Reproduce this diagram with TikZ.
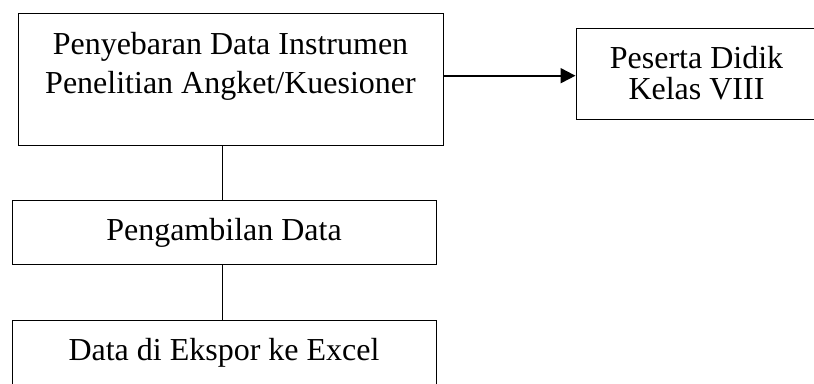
\documentclass[tikz,border=0pt]{standalone}
\usepackage{fontspec}
\setmainfont{Liberation Serif}
\usetikzlibrary{arrows.meta}
\begin{document}
\begin{tikzpicture}[x=1pt,y=-1pt,
  box/.style={draw=black, line width=1pt, inner sep=0pt, rectangle},
  txt/.style={inner sep=0pt, align=center, font=\fontsize{32}{39}\selectfont},
  conn/.style={draw=black, line width=1pt},
  arr/.style={draw=black, line width=2pt, -{Triangle[length=15pt,width=15pt]}}]
\useasboundingbox (0,0) rectangle (814,383);
\clip (0,0) rectangle (814,383);
% boxes
\node[box, minimum width=425pt, minimum height=132pt] (b1) at (230.5,79) {};
\node[txt, anchor=base] (t1) at (230.5,93.3) {Penyebaran Data Instrumen\\Penelitian Angket/Kuesioner};
\node[box, minimum width=241pt, minimum height=91pt] (b2) at (696.5,73.5) {};
\node[txt, anchor=base, font=\fontsize{32}{31}\selectfont] (t2) at (696.5,99.3) {Peserta Didik\\Kelas VIII};
\node[box, minimum width=424pt, minimum height=64pt] (b3) at (224,232) {};
\node[txt, anchor=base] (t3) at (224,240) {Pengambilan Data};
\node[box, minimum width=424pt, minimum height=70pt] (b4) at (224,355) {};
\node[txt, anchor=base] (t4) at (224,360) {Data di Ekspor ke Excel};
% connectors
\coordinate (a1) at (b1.east |- 0,75.7);
\draw[arr] (a1) -- (b2.west |- a1);
\draw[conn] (222,145) -- (222,200);
\draw[conn] (b3.south -| 222,0) -- (b4.north -| 222,0);
\end{tikzpicture}
\end{document}
